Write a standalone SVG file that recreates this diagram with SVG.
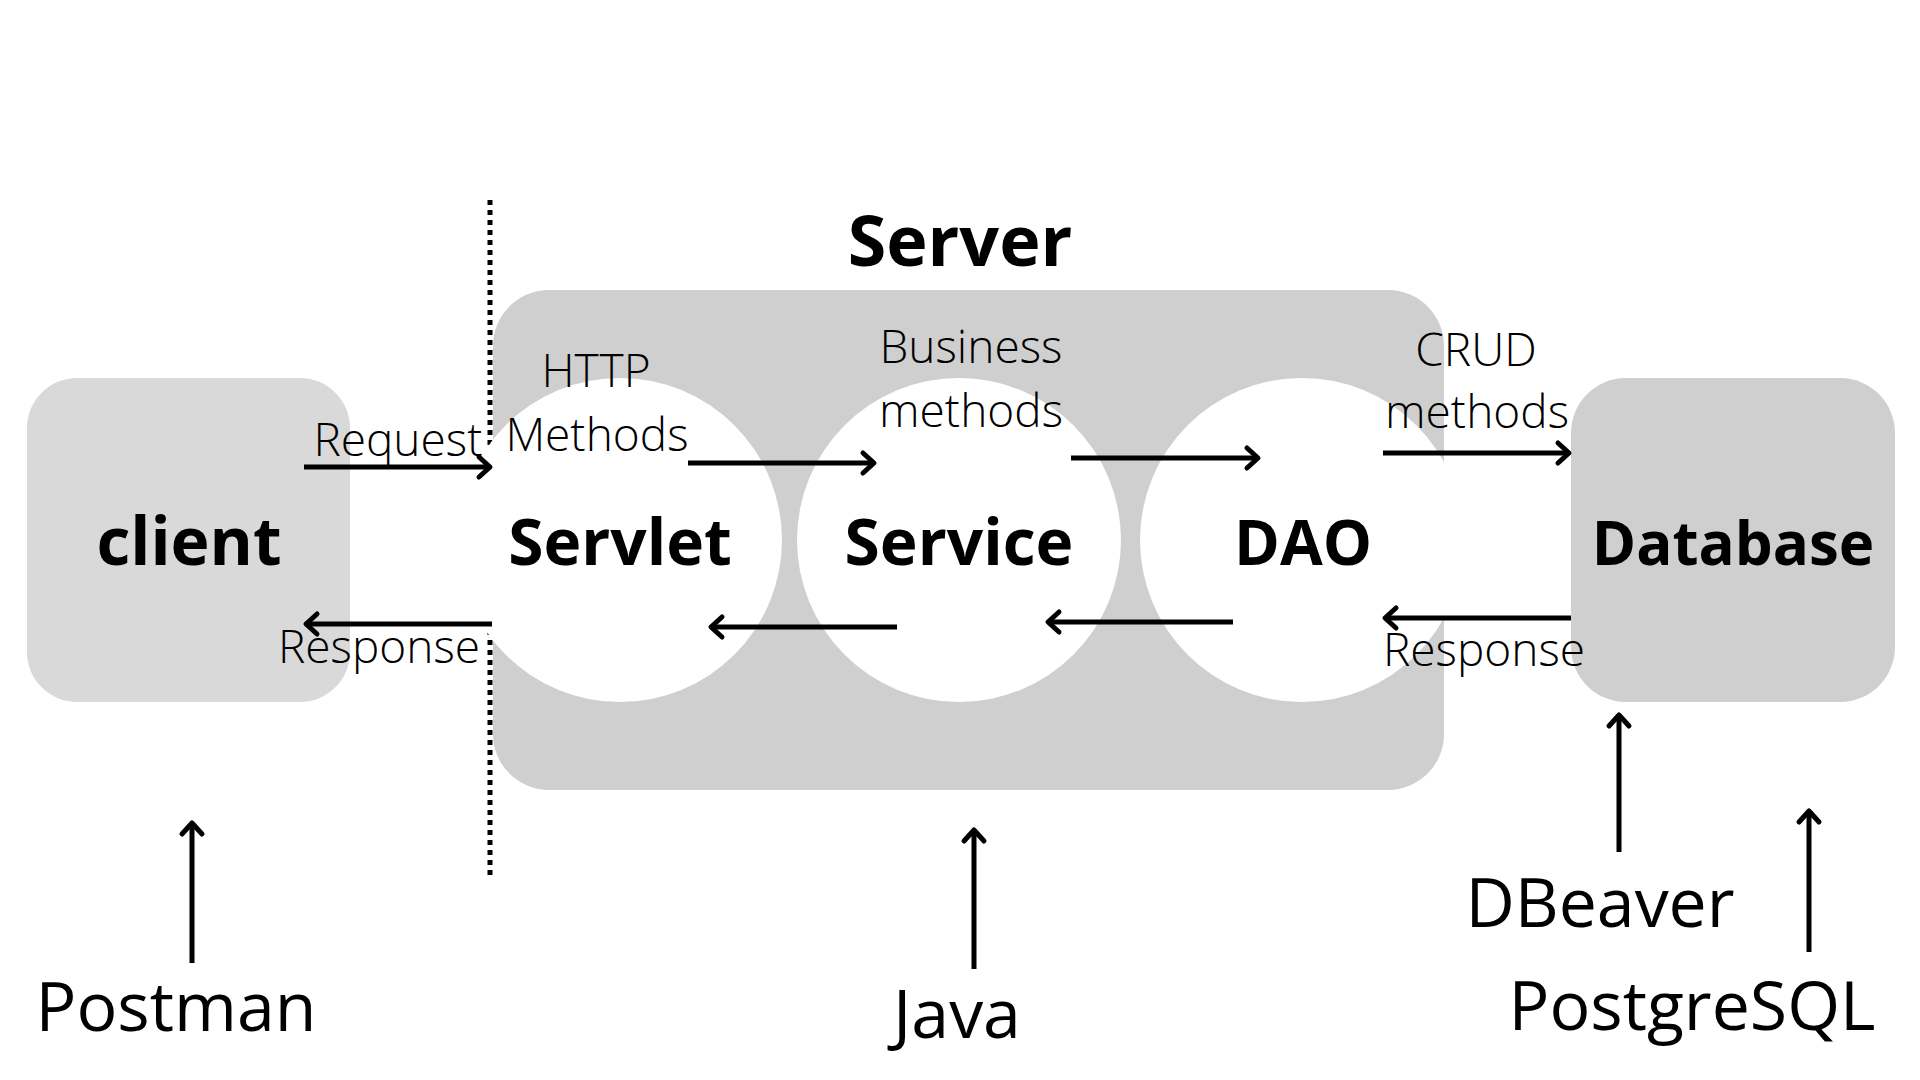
<svg xmlns="http://www.w3.org/2000/svg" width="1920" height="1080" viewBox="0 0 1920 1080">
<style>
.bold{font-family:"Open Sans","DejaVu Sans",sans-serif;font-weight:700;fill:#000;text-anchor:middle}
.light{font-family:"Open Sans Light","Open Sans","DejaVu Sans",sans-serif;font-weight:300;font-size:46px;fill:#000;text-anchor:middle}
.reg{font-family:"Open Sans","DejaVu Sans",sans-serif;font-weight:400;font-size:68px;fill:#000;text-anchor:middle}
.arr{stroke:#000;stroke-width:5;fill:none;marker-end:url(#chev)}
</style>
<defs>
<marker id="chev" markerUnits="userSpaceOnUse" markerWidth="30" markerHeight="30" viewBox="-20 -15 30 30" refX="0" refY="0" orient="auto">
<path d="M-11,-10 L0,0 L-11,10" fill="none" stroke="#000" stroke-width="5" stroke-linecap="round" stroke-linejoin="round"/>
</marker>
</defs>
<rect width="1920" height="1080" fill="#fff"/>
<line id="boundary" x1="490" y1="200" x2="490" y2="880" stroke="#000" stroke-width="5" stroke-dasharray="5 5"/>
<g id="server">
<rect x="493" y="290" width="951" height="500" rx="56" fill="#cfcfcf"/>
<text class="bold" x="960" y="266" font-size="70">Server</text>
</g>
<g id="client">
<rect x="27" y="378" width="323" height="324" rx="50" fill="#d9d9d9"/>
<text class="bold" x="189" y="565" font-size="66">client</text>
</g>
<g id="database">
<rect x="1571" y="378" width="324" height="324" rx="55" fill="#cfcfcf"/>
<text class="bold" x="1733" y="565" font-size="60">Database</text>
</g>
<g id="servlet">
<circle cx="620" cy="540" r="162" fill="#fff"/>
<text class="bold" x="620" y="565" font-size="64">Servlet</text>
</g>
<g id="service">
<circle cx="959" cy="540" r="162" fill="#fff"/>
<text class="bold" x="959" y="565" font-size="64">Service</text>
</g>
<g id="dao">
<circle cx="1302" cy="540" r="162" fill="#fff"/>
<text class="bold" x="1303" y="565" font-size="62">DAO</text>
</g>
<g id="labels">
<text class="light" x="398" y="456">Request</text>
<text class="light" x="596" y="387">HTTP</text>
<text class="light" x="597" y="451">Methods</text>
<text class="light" x="971" y="363">Business</text>
<text class="light" x="971" y="427">methods</text>
<text class="light" x="1476" y="366">CRUD</text>
<text class="light" x="1477" y="428">methods</text>
<text class="light" x="379" y="663">Response</text>
<text class="light" x="1484" y="666">Response</text>
<text class="reg" x="176" y="1031">Postman</text>
<text class="reg" x="957" y="1038">Java</text>
<text class="reg" x="1600" y="927">DBeaver</text>
<text class="reg" x="1692" y="1030" font-size="69">PostgreSQL</text>
</g>
<g id="connectors">
<line class="arr" x1="304" y1="467" x2="490" y2="467"/>
<line class="arr" x1="688" y1="463" x2="874" y2="463"/>
<line class="arr" x1="1071" y1="458" x2="1258" y2="458"/>
<line class="arr" x1="1383" y1="453" x2="1569" y2="453"/>
<line class="arr" x1="1571" y1="618" x2="1385" y2="618"/>
<line class="arr" x1="1233" y1="622" x2="1048" y2="622"/>
<line class="arr" x1="897" y1="627" x2="711" y2="627"/>
<line class="arr" x1="492" y1="624" x2="306" y2="624"/>
<line class="arr" x1="192" y1="963" x2="192" y2="823"/>
<line class="arr" x1="974" y1="969" x2="974" y2="830"/>
<line class="arr" x1="1619" y1="852" x2="1619" y2="715"/>
<line class="arr" x1="1809" y1="952" x2="1809" y2="811"/>
</g>
</svg>
